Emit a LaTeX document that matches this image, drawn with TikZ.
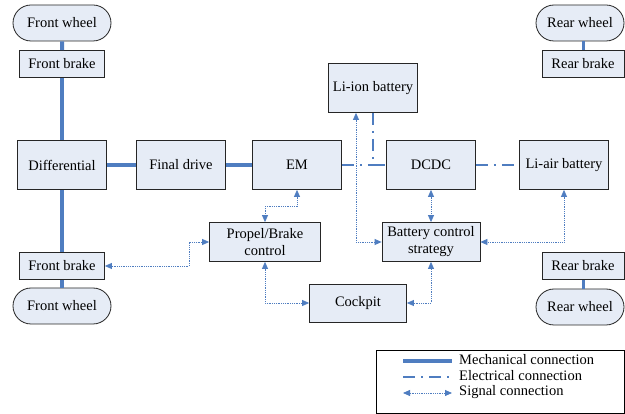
\documentclass[tikz,border=0pt]{standalone}
\usepackage{fontspec}
\setmainfont{Liberation Serif}
\usetikzlibrary{arrows.meta,positioning,calc}
\usetikzlibrary{shapes.misc}
\definecolor{boxfill}{RGB}{230,236,246}
\definecolor{linkblue}{RGB}{79,125,192}

\begin{document}
\begin{tikzpicture}[x=1pt,y=-1pt,font=\fontsize{14.5}{17}\selectfont,
    unit/.style={draw=black!85,line width=0.8pt,fill=boxfill,inner sep=0pt,minimum width=89pt,minimum height=49pt,align=center},
    brake/.style={unit,minimum width=85pt,minimum height=27pt},
    wheel/.style={rounded rectangle,draw=black!85,line width=0.8pt,fill=boxfill,inner sep=0pt,minimum width=98pt,minimum height=36pt},
    ctrl/.style={unit,minimum height=39pt},
    mech/.style={draw=linkblue,line width=4pt},
    elec/.style={draw=linkblue,line width=2pt,dash pattern=on 12pt off 6pt on 2pt off 6pt},
    sig/.style={draw=linkblue,line width=0.8pt,densely dotted,{Triangle[length=7pt,width=6pt]}-{Triangle[length=7pt,width=6pt]}}]
            \useasboundingbox (0,0) rectangle (625,414);
            \node[wheel] (fwheel1) at (62,23) {Front wheel};
            \node[brake] (fbrake1) at (62,64) {Front brake};
            \node[unit] (diff) at (62,165) {Differential};
            \node[unit] (fdrive) at (181,165) {Final drive};
            \node[unit] (em) at (297,165) {EM};
            \node[unit] (liion) at (373,88) {Li-ion battery};
            \node[unit] (dcdc) at (431,165) {DCDC};
            \node[unit] (liair) at (564,165) {Li-air battery};
            \node[wheel,minimum width=88pt] (rwheel1) at (580,23) {Rear wheel};
            \node[brake,minimum width=82pt] (rbrake1) at (583,64) {Rear brake};
            \node[ctrl,minimum width=111pt] (propel) at (265,242) {Propel/Brake\\control};
            \node[ctrl,minimum width=98pt] (bcs) at (431,242) {Battery control\\strategy};
            \node[ctrl,minimum width=97pt,minimum height=38pt] (cockpit) at (358,303) {Cockpit};
            \node[brake] (fbrake2) at (62,266) {Front brake};
            \node[wheel] (fwheel2) at (62,306) {Front wheel};
            \node[brake,minimum width=82pt] (rbrake2) at (583,266) {Rear brake};
            \node[wheel,minimum width=88pt] (rwheel2) at (580,307) {Rear wheel};

            \draw[mech] (fwheel1) -- (fbrake1);
            \draw[mech] (fbrake1) -- (diff);
            \draw[mech] (diff) -- (fbrake2);
            \draw[mech] (fbrake2) -- (fwheel2);
            \draw[mech] (diff) -- (fdrive);
            \draw[mech] (fdrive) -- (em);
            \draw[mech,line width=3pt] (rwheel1.south -| rbrake1.north) -- (rbrake1.north);
            \draw[mech,line width=3pt] (rbrake2.south) -- (rwheel2.north -| rbrake2.south);

            \draw[elec] (em.east) -- (liion.south |- em.east);
            \draw[elec] (liion.south) |- (dcdc.west);
            \draw[elec] (dcdc.east) -- (liair.west);

            \draw[sig] (em.south) -- ++(0,17) -| (propel.north);
            \draw[sig] (fbrake2.east) -- ++(84,0) |- (propel.west);
            \draw[sig] (propel.south) |- (cockpit.west);
            \draw[sig] (cockpit.east) -| (bcs.south);
            \draw[sig] (dcdc.south) -- (bcs.north);
            \draw[sig] (liair.south) |- (bcs.east);
            \draw[sig] ([xshift=-17pt]liion.south) |- (bcs.west);

            \draw[line width=0.8pt] (376,350) rectangle (624,413);
            \draw[mech] (403,361) -- (452,361);
            \draw[elec] (403,377) -- (452,377);
            \draw[sig] (403,393) -- (452,393);
            \node[anchor=west,inner sep=0pt] (lmech) at (459,360) {Mechanical connection};
            \node[anchor=west,inner sep=0pt] (lelec) at (459,376) {Electrical connection};
            \node[anchor=west,inner sep=0pt] (lsig) at (459,392) {Signal connection};
        \end{tikzpicture}
\end{document}
